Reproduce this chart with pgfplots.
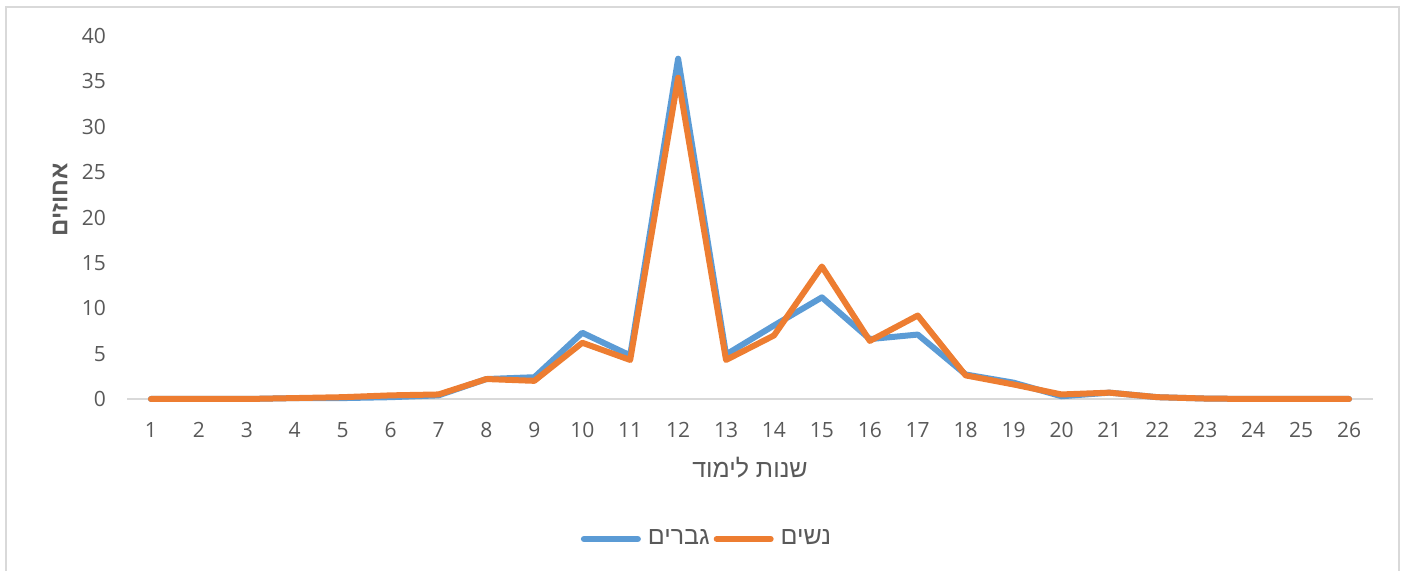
\documentclass[border=0pt]{standalone}
\usepackage{fontspec}
\setmainfont{Open Sans}
\newfontfamily\hebfont[Script=Hebrew]{Liberation Sans}
\TeXXeTstate=1
\usepackage{pgfplots}
\pgfplotsset{compat=1.18}
\definecolor{cblue}{HTML}{5B9BD5}
\definecolor{corange}{HTML}{ED7D31}
\definecolor{ctext}{HTML}{595959}
\definecolor{caxis}{HTML}{D9D9D9}
\definecolor{cframe}{HTML}{D9D9D9}

\pgfplotstableread{
x men women
1 0 0
2 0 0
3 0 0
4 0.1 0.1
5 0.1 0.2
6 0.2 0.4
7 0.4 0.5
8 2.2 2.2
9 2.4 2.0
10 7.3 6.2
11 4.8 4.3
12 37.5 35.4
13 4.9 4.3
14 8.1 7.0
15 11.2 14.6
16 6.6 6.4
17 7.1 9.2
18 2.7 2.6
19 1.8 1.6
20 0.3 0.5
21 0.7 0.7
22 0.2 0.2
23 0.05 0.05
24 0 0
25 0 0
26 0 0
}\datatable

\begin{document}
\begin{tikzpicture}
\useasboundingbox (0,0) rectangle (704pt,285.5pt);
\draw[cframe, line width=0.8pt] (3pt,282pt) rectangle (699.5pt,-10pt);
\begin{axis}[
  at={(63.5pt,86pt)}, anchor=south west,
  scale only axis, width=623pt, height=181.5pt,
  xmin=0.5, xmax=26.5, ymin=0, ymax=40,
  xtick={1,...,26}, ytick={0,5,...,40},
  major tick length=0pt,
  axis x line*=bottom, axis y line*=left,
  x axis line style={caxis, line width=0.8pt, -},
  y axis line style={draw=none},
  /pgf/number format/assume math mode=true,
  ticklabel style={font=\fontsize{10.5}{12}\selectfont, text=ctext},
  xticklabel style={yshift=-8pt},
  yticklabel style={xshift=-7pt},
  legend columns=2,
  legend style={at={(0.4663,-0.3857)}, anchor=center, draw=none, fill=none,
    font=\hebfont\fontsize{12.5}{14}\selectfont, text=ctext,
    /tikz/column 1/.style={column sep=1.5pt},
    /tikz/column 3/.style={column sep=1.5pt}},
  legend image code/.code={\draw[#1, line width=3pt, line cap=round] (0pt,0pt) -- (27pt,0pt);},
  clip=false,
]
\addplot[cblue, line width=3pt, line join=round, line cap=round] table[x=x, y=men] {\datatable};
\addlegendentry{גברים\hspace{10pt}}
\addplot[corange, line width=3pt, line join=round, line cap=round] table[x=x, y=women] {\datatable};
\addlegendentry{נשים}
\end{axis}
\node[text=ctext, font=\hebfont\bfseries\fontsize{12}{14}\selectfont, rotate=90] at (30pt,185.5pt) {\beginR אחוזים\endR};
\node[text=ctext, font=\hebfont\fontsize{12.5}{14}\selectfont] at (375pt,51.5pt) {\beginR שנות לימוד\endR};
\end{tikzpicture}
\end{document}
